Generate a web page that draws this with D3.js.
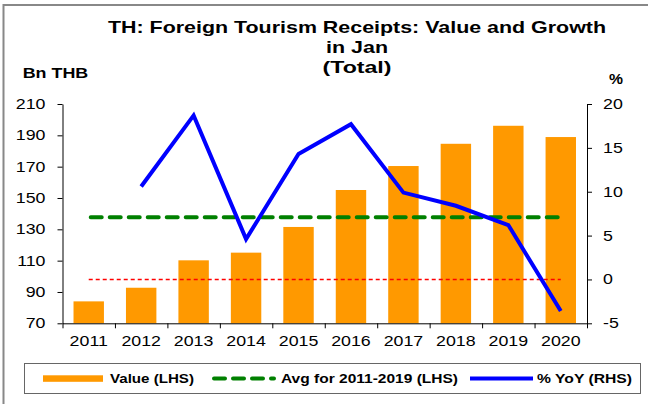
<html>
<head>
<meta charset="utf-8">
<script src="https://cdn.jsdelivr.net/npm/d3@7"></script>
<style>
  body { margin: 0; background: #fff; }
  text { font-family: "Liberation Sans", Arial, sans-serif; fill: #000; }
</style>
</head>
<body>
<svg id="chart" width="648" height="404"></svg>
<script>
// data
const years = ["2011", "2012", "2013", "2014", "2015", "2016", "2017", "2018", "2019", "2020"];
const values = [84, 92.7, 110.2, 115.1, 131.5, 155.1, 170.4, 184.6, 196.1, 188.9];
const yoy = [null, 10.6, 18.7, 4.6, 14.3, 17.7, 9.9, 8.4, 6.2, -3.6];
const avgValue = 137.7;
const leftTicks = [70, 90, 110, 130, 150, 170, 190, 210];
const rightTicks = [-5, 0, 5, 10, 15, 20];
const titleLines = ["TH: Foreign Tourism Receipts: Value and Growth", "in Jan", "(Total)"];
const legendLabels = ["Value (LHS)", "Avg for 2011-2019 (LHS)", "% YoY (RHS)"];

const svg = d3.select("#chart");

// the original picture is stretched sideways, so text is widened to match
function stretchTo(sel, w) {
    sel.attr("textLength", w).attr("lengthAdjust", "spacingAndGlyphs");
}
function stretch(sel, k) {
    sel.each(function() {
        const w = this.getComputedTextLength();
        d3.select(this).attr("textLength", w * k).attr("lengthAdjust", "spacingAndGlyphs");
    });
}

const x0 = 62.5, x1 = 587, yTop = 104, yBot = 323.3;

// outer frame (only top and left visible)
svg.append("rect")
    .attr("x", 3.5).attr("y", 5).attr("width", 660).attr("height", 420)
    .attr("fill", "none").attr("stroke", "#888").attr("stroke-width", 2);

const xs = d3.scaleBand().domain(years).range([x0, x1])
    .paddingInner(0.42).paddingOuter(0.21);
const xi = d3.scaleLinear().domain([0, years.length]).range([x0, x1]);
const yl = d3.scaleLinear().domain([70, 210]).range([yBot, yTop]);
const yr = d3.scaleLinear().domain([-5, 20]).range([yBot, yTop]);
const cx = function(y) { return xs(y) + xs.bandwidth() / 2; };

// bars
svg.append("g").selectAll("rect")
    .data(years)
    .enter()
    .append("rect")
    .attr("x", function(d) { return xs(d); })
    .attr("y", function(d, i) { return yl(values[i]); })
    .attr("width", xs.bandwidth())
    .attr("height", function(d, i) { return yBot - yl(values[i]); })
    .attr("fill", "#ff9900");

// zero line of the right axis
svg.append("line")
    .attr("x1", cx(years[0])).attr("x2", cx(years[years.length - 1]))
    .attr("y1", yr(0)).attr("y2", yr(0))
    .attr("stroke", "#ff0000").attr("stroke-width", 1.5)
    .attr("stroke-dasharray", "4,3");

// average line
svg.append("line")
    .attr("x1", cx(years[0]) + 2).attr("x2", cx(years[years.length - 1]) - 2)
    .attr("y1", yl(avgValue)).attr("y2", yl(avgValue))
    .attr("stroke", "#008000").attr("stroke-width", 4)
    .attr("stroke-linecap", "round")
    .attr("stroke-dasharray", "11,8");

// yoy line
const line = d3.line()
    .defined(function(d) { return d[1] !== null; })
    .x(function(d) { return cx(d[0]); })
    .y(function(d) { return yr(d[1]); });
svg.append("path")
    .datum(years.map(function(y, i) { return [y, yoy[i]]; }))
    .attr("d", line)
    .attr("fill", "none")
    .attr("stroke", "#0000ff")
    .attr("stroke-width", 4)
    .attr("stroke-linejoin", "miter");

// left axis
const axL = svg.append("g")
    .attr("transform", "translate(" + x0 + ",0)")
    .call(d3.axisLeft(yl).tickValues(leftTicks).tickSize(5).tickSizeOuter(0).tickPadding(12)
        .tickFormat(function(d) { return String(d); }));
// right axis
const axR = svg.append("g")
    .attr("transform", "translate(" + x1 + ",0)")
    .call(d3.axisRight(yr).tickValues(rightTicks).tickSize(5).tickSizeOuter(0).tickPadding(11)
        .tickFormat(function(d) { return String(d); }));
// x axis: labels from band scale, ticks at band edges
const axB = svg.append("g")
    .attr("transform", "translate(0," + yBot + ")")
    .call(d3.axisBottom(xs).tickSize(0).tickPadding(13));
axB.select(".domain").remove();
svg.append("g")
    .attr("transform", "translate(0," + yBot + ")")
    .call(d3.axisBottom(xi).tickValues(d3.range(0, years.length + 1)).tickSize(5).tickSizeOuter(0).tickFormat(""));

[axL, axR, axB].forEach(function(a) {
    a.selectAll("text").style("font-size", "14px").attr("fill", "#000");
    a.selectAll("line, path").attr("stroke", "#000");
    stretch(a.selectAll("text"), 1.27);
});

// titles
const tys = [33, 53, 73];
const tws = [498, 62, 69];
titleLines.forEach(function(t, i) {
    svg.append("text")
        .attr("x", 357).attr("y", tys[i])
        .attr("text-anchor", "middle")
        .style("font-size", "16.5px").style("font-weight", "bold")
        .text(t)
        .call(stretchTo, tws[i]);
});
svg.append("text")
    .attr("x", 22.7).attr("y", 78)
    .style("font-size", "14px").style("font-weight", "bold")
    .text("Bn THB")
    .call(stretchTo, 65.5);
svg.append("text")
    .attr("x", 616).attr("y", 84)
    .attr("text-anchor", "middle")
    .style("font-size", "14px").style("font-weight", "bold")
    .text("%")
    .call(stretchTo, 14);

// legend
const lg = svg.append("g");
lg.append("rect")
    .attr("x", 24.5).attr("y", 363.5).attr("width", 616).attr("height", 30)
    .attr("fill", "#fff").attr("stroke", "#666").attr("stroke-width", 1);
const ly = 378.5;
lg.append("rect")
    .attr("x", 43).attr("y", 375.3).attr("width", 60).attr("height", 6.5)
    .attr("fill", "#ff9900");
lg.append("line")
    .attr("x1", 214).attr("x2", 274).attr("y1", ly).attr("y2", ly)
    .attr("stroke", "#008000").attr("stroke-width", 4)
    .attr("stroke-linecap", "round").attr("stroke-dasharray", "11,8");
lg.append("line")
    .attr("x1", 470).attr("x2", 533).attr("y1", ly).attr("y2", ly)
    .attr("stroke", "#0000ff").attr("stroke-width", 4);
const lx = [110, 281, 537];
const lw = [84, 177, 95];
legendLabels.forEach(function(t, i) {
    lg.append("text")
        .attr("x", lx[i]).attr("y", 383.3)
        .style("font-size", "12px").style("font-weight", "bold")
        .text(t)
        .call(stretchTo, lw[i]);
});
</script>
</body>
</html>
